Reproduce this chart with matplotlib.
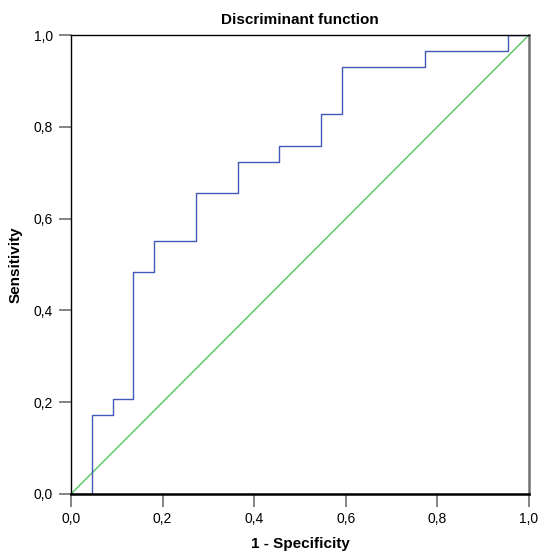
import numpy as np
import matplotlib
matplotlib.use('Agg')
import matplotlib.pyplot as plt
from matplotlib.ticker import FuncFormatter

plt.rcParams['font.family'] = ['Liberation Sans', 'DejaVu Sans']

# ROC curve (step vertices)
fpr = [0.0, 0.045, 0.045, 0.091, 0.091, 0.136, 0.136, 0.182, 0.182, 0.273, 0.273,
       0.364, 0.364, 0.455, 0.455, 0.545, 0.545, 0.591, 0.591, 0.773, 0.773, 0.955, 0.955, 1.0]
tpr = [0.0, 0.0, 0.172, 0.172, 0.207, 0.207, 0.483, 0.483, 0.552, 0.552, 0.655,
       0.655, 0.724, 0.724, 0.759, 0.759, 0.828, 0.828, 0.931, 0.931, 0.966, 0.966, 1.0, 1.0]
ref_line = [0.0, 1.0]
ticks = [0.0, 0.2, 0.4, 0.6, 0.8, 1.0]

fig = plt.figure(figsize=(5.39, 5.53), dpi=100)
ax = fig.add_axes([0.1317, 0.1067, 0.985 - 0.1317 - 0.0036, 0.9367 - 0.1067])

ax.plot(ref_line, ref_line, color='#55c45e', lw=1.0)
ax.plot(fpr, tpr, color='#4358b8', lw=1.0)

ax.set_xlim(0, 1)
ax.set_ylim(0, 1)
ax.set_xticks(ticks)
ax.set_yticks(ticks)
fmt = FuncFormatter(lambda v, p: f'{v:.1f}'.replace('.', ','))
ax.xaxis.set_major_formatter(fmt)
ax.yaxis.set_major_formatter(fmt)
ax.tick_params(direction='out', length=9, width=1.2, color='#707070',
               labelsize=10, pad=4)

for side in ['left', 'top']:
    ax.spines[side].set_color('black')
    ax.spines[side].set_linewidth(1.0)
ax.spines['bottom'].set_color('black')
ax.spines['bottom'].set_linewidth(1.8)
ax.spines['right'].set_color('#707070')
ax.spines['right'].set_linewidth(1.8)

ax.set_title('Discriminant function', fontsize=11, fontweight='bold', pad=8)
ax.set_xlabel('1 - Specificity', fontsize=11, fontweight='bold', labelpad=8)
ax.set_ylabel('Sensitivity', fontsize=11, fontweight='bold', labelpad=8)

plt.savefig('out.png', dpi=100)
plt.close(fig)
